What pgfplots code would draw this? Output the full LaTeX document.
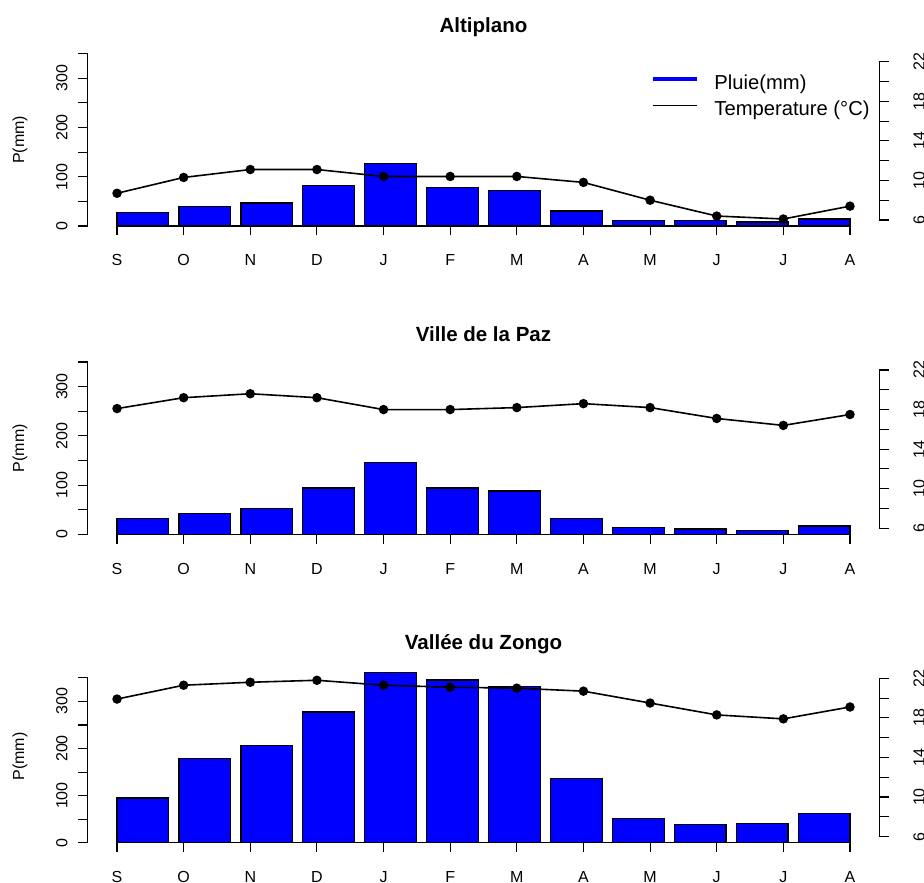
\documentclass[border=0pt]{standalone}
\usepackage{pgfplots}
\pgfplotsset{compat=1.18}
\usepackage{pgfplotstable}
\usepackage{fontspec}
\setmainfont{Liberation Sans}
\newcommand\tickfont{\fontsize{16bp}{18bp}\selectfont}
\newcommand\titlefont{\fontsize{20.5bp}{22bp}\selectfont\bfseries}
\newcommand\legfont{\fontsize{20.2bp}{22bp}\selectfont}

\pgfplotstableread{
x y
0.7 27.8
1.9 39.3
3.1 46.7
4.3 81.9
5.5 127.3
6.7 77.9
7.9 72.4
9.1 30.5
10.3 11.5
11.5 11.5
12.7 8.1
13.9 14.2
}\barsA
\pgfplotstableread{
x t
1 8.7
2 10.3
3 11.1
4 11.1
5 10.4
6 10.4
7 10.4
8 9.8
9 8.0
10 6.4
11 6.1
12 7.4
}\tempA
\pgfplotstableread{
x y
0.7 32.5
1.9 42.0
3.1 52.1
4.3 94.1
5.5 146.2
6.7 94.1
7.9 88.0
9.1 32.5
10.3 13.5
11.5 10.8
12.7 8.1
13.9 16.9
}\barsB
\pgfplotstableread{
x t
1 18.1
2 19.2
3 19.6
4 19.2
5 18.0
6 18.0
7 18.2
8 18.6
9 18.2
10 17.1
11 16.4
12 17.5
}\tempB
\pgfplotstableread{
x y
0.7 94.9
1.9 179.1
3.1 206.7
4.3 277.5
5.5 361.8
6.7 345.5
7.9 332.1
9.1 135.9
10.3 51.0
11.5 38.2
12.7 41.1
13.9 61.6
}\barsC
\pgfplotstableread{
x t
1 19.9
2 21.3
3 21.6
4 21.8
5 21.3
6 21.1
7 21.0
8 20.7
9 19.5
10 18.3
11 17.9
12 19.1
}\tempC

\pgfplotsset{
  base/.style={scale only axis, width=791.6bp, height=186.1bp, anchor=south west,
    axis line style={draw=none}, tick align=outside, major tick length=9.5bp,
    tick style={black, line width=1.1bp}, clip=false,
    tick label style={font=\tickfont}},
  baraxis/.style={base, xmin=-0.368, xmax=14.968, xtick=\empty,
    ytick={0,50,...,350}, yticklabels={0,,100,,200,,300,},
    ytick pos=left, yticklabel pos=left,
    yticklabel style={xshift=-10.5bp, rotate=90, anchor=south, inner sep=0pt},
    ylabel={P(mm)}, ylabel style={font=\tickfont, at={([xshift=-67.7bp]axis description cs:0,0.5)}, anchor=center}},
  tempaxis/.style={base, xmin=0.56, xmax=12.44, ymin=4.696, ymax=23.506, xtick=\empty,
    ytick={6,8,...,22}, yticklabels={6,,10,,14,,18,,22},
    ytick pos=right, yticklabel pos=right,
    yticklabel style={xshift=24.5bp, rotate=90, anchor=north, inner sep=0pt},
    title style={font=\titlefont, at={(0.5,1)}, anchor=base, yshift=8bp}},
  monthaxis/.style={scale only axis, width=791.6bp, height=20bp, anchor=south west,
    xmin=0.56, xmax=12.44, ymin=0, ymax=1, clip=false,
    axis line style={draw=none}, tick align=outside, major tick length=9.5bp,
    tick style={black, line width=1.1bp}, tick label style={font=\tickfont},
    ytick=\empty, xtick={1,...,12}, xticklabels={S,O,N,D,J,F,M,A,M,J,J,A},
    xtick pos=left, xticklabel pos=left,
    xticklabel style={yshift=-19bp, anchor=north, inner sep=0pt}},
  barplot/.style={ybar, bar width=1, bar shift=0pt, fill=blue, draw=black, line width=1.3bp},
  templine/.style={black, line width=1.6bp, mark=*, mark size=3.9bp, mark options={solid}},
}

\begin{document}
\begin{tikzpicture}
\path[use as bounding box] (0bp,0bp) rectangle (924bp,883bp);

% ---------- Panel 1 : Altiplano ----------
\begin{axis}[baraxis, at={(87.7bp,650.1bp)}, ymin=-14, ymax=364]
  \addplot[barplot] table[x=x,y=y] {\barsA};
  \draw[line width=1.1bp] (axis cs:-0.368,0) -- (axis cs:-0.368,350);
\end{axis}
\begin{axis}[tempaxis, at={(87.7bp,650.1bp)}, title={Altiplano},
  legend style={draw=none, fill=none, font=\legfont, at={(axis description cs:0.7113,0.8485)}, anchor=north west,
    inner sep=0pt, row sep=8.4bp, column sep=0bp,
    /tikz/every odd column/.append style={column sep=15bp},
    nodes={inner sep=0pt, text height=14bp, text depth=4bp}},
  legend cell align=left,
  legend image code/.code={\draw[#1] (0bp,5bp) -- (44bp,5bp);}]
  \addlegendimage{blue, line width=4.5bp}
  \addlegendentry{Pluie(mm)}
  \addlegendimage{black, line width=1.2bp}
  \addlegendentry{Temperature (°C)}
  \addplot[templine, forget plot] table[x=x,y=t] {\tempA};
  \draw[line width=1.1bp] (axis cs:12.44,6) -- (axis cs:12.44,22);
\end{axis}
\begin{axis}[monthaxis, at={(87.7bp,657.0bp)}]
  \draw[line width=1.3bp] (axis cs:1,0) -- (axis cs:12,0);
\end{axis}

% ---------- Panel 2 : Ville de la Paz ----------
\begin{axis}[baraxis, at={(87.7bp,341.8bp)}, ymin=-14, ymax=364]
  \addplot[barplot] table[x=x,y=y] {\barsB};
  \draw[line width=1.1bp] (axis cs:-0.368,0) -- (axis cs:-0.368,350);
\end{axis}
\begin{axis}[tempaxis, at={(87.7bp,341.8bp)}, title={Ville de la Paz}]
  \addplot[templine] table[x=x,y=t] {\tempB};
  \draw[line width=1.1bp] (axis cs:12.44,6) -- (axis cs:12.44,22);
\end{axis}
\begin{axis}[monthaxis, at={(87.7bp,348.7bp)}]
  \draw[line width=1.3bp] (axis cs:1,0) -- (axis cs:12,0);
\end{axis}

% ---------- Panel 3 : Vallee du Zongo ----------
\begin{axis}[baraxis, at={(87.7bp,33.5bp)}, ymin=-14.5, ymax=380.8]
  \addplot[barplot] table[x=x,y=y] {\barsC};
  \draw[line width=1.1bp] (axis cs:-0.368,0) -- (axis cs:-0.368,350);
\end{axis}
\begin{axis}[tempaxis, at={(87.7bp,33.5bp)}, title={Vallée du Zongo}]
  \addplot[templine] table[x=x,y=t] {\tempC};
  \draw[line width=1.1bp] (axis cs:12.44,6) -- (axis cs:12.44,22);
\end{axis}
\begin{axis}[monthaxis, at={(87.7bp,40.3bp)}]
  \draw[line width=1.3bp] (axis cs:1,0) -- (axis cs:12,0);
\end{axis}
\end{tikzpicture}
\end{document}
